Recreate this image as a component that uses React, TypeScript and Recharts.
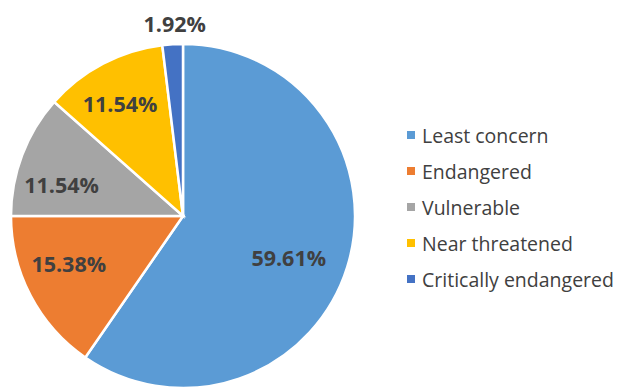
import { Cell, Legend, Pie, PieChart } from "recharts";

const categories = [
  "Least concern",
  "Endangered",
  "Vulnerable",
  "Near threatened",
  "Critically endangered",
];
const shares = [59.61, 15.38, 11.54, 11.54, 1.92];
const colors = ["#5B9BD5", "#ED7D31", "#A5A5A5", "#FFC000", "#4472C4"];

// label placement: fraction of radius, plus a small angle nudge (deg)
const labelRadius = [0.66, 0.72, 0.73, 0.75, 1.12];
const labelNudge = [-4, -5, 6, 1.5, -1];

const data = categories.map((name, i) => ({ name, value: shares[i] }));

const RAD = Math.PI / 180;
const font = "'Open Sans', Lato, sans-serif";

function renderLabel(props: any) {
  const { cx, cy, midAngle, outerRadius, index, value } = props;
  const r = outerRadius * labelRadius[index];
  const a = (midAngle + labelNudge[index]) * RAD;
  const x = cx + r * Math.cos(-a);
  const y = cy + r * Math.sin(-a);
  return (
    <text
      x={x}
      y={y}
      fill="#404040"
      fontSize={21.5}
      fontWeight={700}
      fontFamily={font}
      textAnchor="middle"
      dominantBaseline="central"
    >
      {value.toFixed(2)}%
    </text>
  );
}

function LegendList() {
  return (
    <ul style={{ listStyle: "none", margin: 0, padding: 0, fontFamily: font }}>
      {data.map((d, i) => (
        <li
          key={d.name}
          style={{
            display: "flex",
            alignItems: "center",
            height: 36,
            fontSize: 19.5,
            color: "#404040",
            whiteSpace: "nowrap",
          }}
        >
          <span
            style={{
              width: 8,
              height: 8,
              background: colors[i],
              marginRight: 7,
              display: "inline-block",
              flexShrink: 0,
            }}
          />
          {d.name}
        </li>
      ))}
    </ul>
  );
}

export default function App() {
  return (
    <div style={{ position: "absolute", left: 0, top: 0, background: "#fff" }}>
      <PieChart width={620} height={390}>
        <Pie
          data={data}
          dataKey="value"
          nameKey="name"
          cx={178}
          cy={211}
          outerRadius={172}
          startAngle={90}
          endAngle={-270}
          stroke="#fff"
          strokeWidth={2.5}
          label={renderLabel}
          labelLine={false}
          isAnimationActive={false}
        >
          {data.map((d, i) => (
            <Cell key={d.name} fill={colors[i]} />
          ))}
        </Pie>
        <Legend
          layout="vertical"
          align="right"
          verticalAlign="middle"
          content={() => <LegendList />}
          wrapperStyle={{ left: 407, top: 117, width: 213 }}
        />
      </PieChart>
    </div>
  );
}
